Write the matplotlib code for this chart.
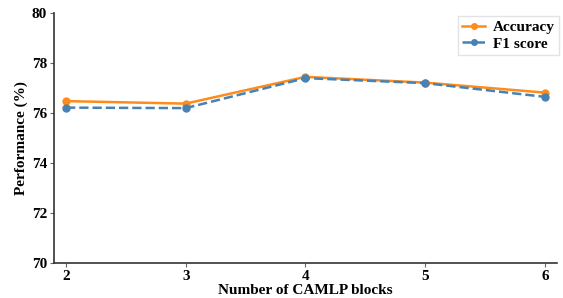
import matplotlib
matplotlib.use("Agg")
import matplotlib.pyplot as plt

blocks = [2, 3, 4, 5, 6]
accuracy = [76.48, 76.38, 77.45, 77.22, 76.82]
f1_score = [76.22, 76.20, 77.40, 77.20, 76.65]
yticks = [70, 72, 74, 76, 78, 80]

plt.rcParams['font.family'] = ['Liberation Serif', 'DejaVu Serif']
plt.rcParams['font.weight'] = 'bold'

fig = plt.figure(figsize=(5.63, 2.98), dpi=100)
ax = fig.add_axes([0.096, 0.117, 0.893, 0.839])

ax.plot(blocks, accuracy, color='#ff8c1a', marker='o', markersize=5, linewidth=1.8, label='Accuracy')
ax.plot(blocks, f1_score, color='#4682b4', marker='o', markersize=5, linewidth=1.8, linestyle='--', label='F1 score')

ax.set_xlim(1.9, 6.1)
ax.set_ylim(70, 80)
ax.set_xticks(blocks)
ax.set_yticks(yticks)
ax.tick_params(labelsize=11, width=0.8, length=3, pad=2, color='#666666')
for lab in ax.get_xticklabels() + ax.get_yticklabels():
    lab.set_fontweight('bold')

ax.set_xlabel('Number of CAMLP blocks', fontsize=11, fontweight='bold', labelpad=1)
ax.set_ylabel('Performance (%)', fontsize=11, fontweight='bold', labelpad=3)

ax.spines['top'].set_visible(False)
ax.spines['right'].set_visible(False)
for s in ['left', 'bottom']:
    ax.spines[s].set_color('#333333')
    ax.spines[s].set_linewidth(1.2)

leg = ax.legend(loc='upper right', bbox_to_anchor=(1.005, 0.99), borderaxespad=0,
                prop={'size': 11, 'weight': 'bold'}, frameon=True, fancybox=False,
                handlelength=1.5, handletextpad=0.5, borderpad=0.3, labelspacing=0.2,
                markerscale=0.8)
leg.get_frame().set_edgecolor('#dddddd')

fig.savefig('out.png', dpi=100)
